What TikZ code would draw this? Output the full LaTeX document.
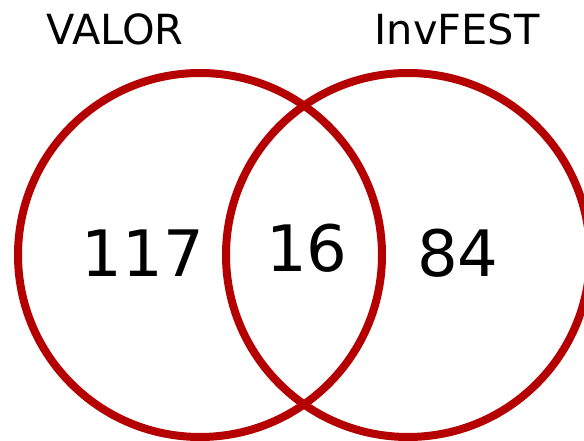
\documentclass[tikz,border=0pt]{standalone}
\usepackage{fontspec}
\setmainfont{DejaVu Sans}
\definecolor{vennred}{RGB}{180,0,0}
\begin{document}
\begin{tikzpicture}[x=1pt,y=-1pt,
  setring/.style={draw=vennred,line width=8pt},
  setlabel/.style={inner sep=0pt,anchor=base,font=\fontsize{41.5}{50}\selectfont},
  count/.style={inner sep=0pt,anchor=base,font=\fontsize{64}{76}\selectfont}]
  \useasboundingbox (0,0) rectangle (584,441);
  \begin{scope}
    \clip (0,0) rectangle (584,441);
    \draw[setring] (200,255) circle[radius=182];
    \draw[setring] (408,255) circle[radius=182];
  \end{scope}
  \node[setlabel] (valor) at (115,45) {VALOR};
  \node[setlabel] (invfest) at (457,45) {InvFEST};
  \node[count] (onlyvalor) at (143,276) {117};
  \node[count] (both) at (307,271) {16};
  \node[count] (onlyinvfest) at (458,276) {84};
\end{tikzpicture}
\end{document}
